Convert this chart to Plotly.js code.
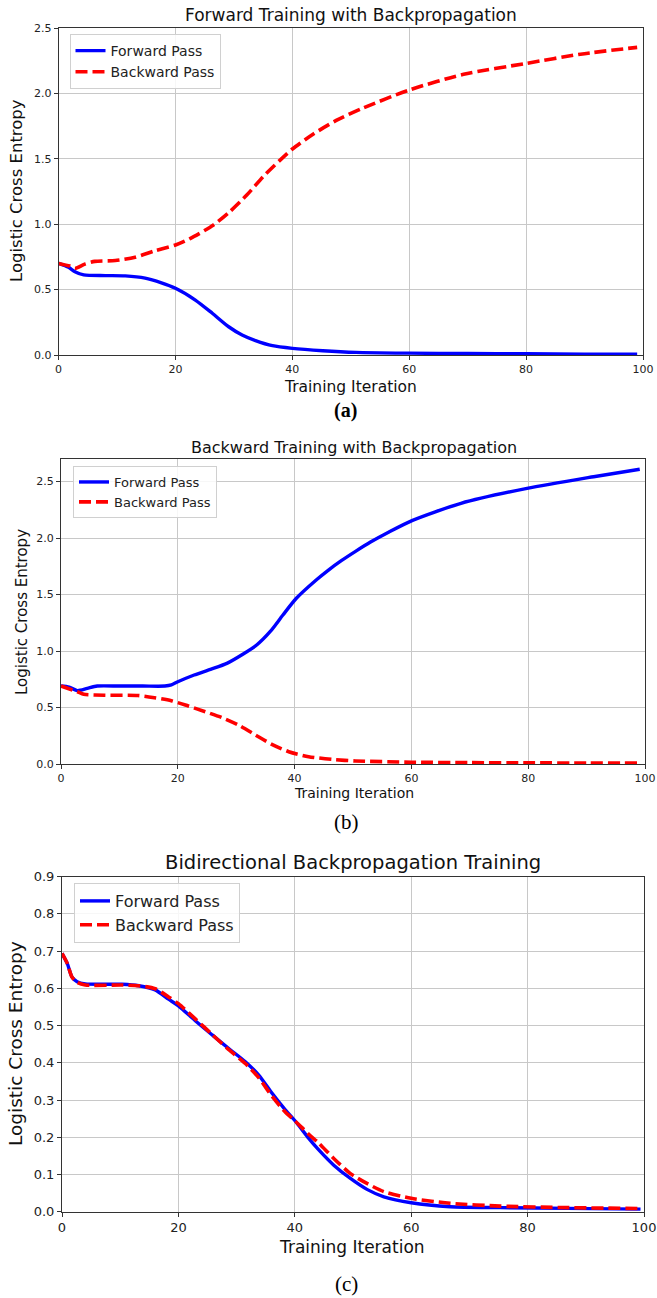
<!DOCTYPE html>
<html>
<head>
<meta charset="utf-8">
<script src="https://cdn.plot.ly/plotly-3.0.1.min.js"></script>
<style>html,body{margin:0;padding:0;background:#fff}#chart{width:657px;height:1298px}</style>
</head>
<body>
<div id="chart"></div>
<script>
// ---- Data ----
const seriesNames = ["Forward Pass", "Backward Pass"];
const panelTitles = ["Forward Training with Backpropagation", "Backward Training with Backpropagation", "Bidirectional Backpropagation Training"];
const panelLabels = ["(a)", "(b)", "(c)"];
const xTitle = "Training Iteration";
const yTitle = "Logistic Cross Entropy";
const xTickVals = [0, 20, 40, 60, 80, 100];

// (a) Forward training with backpropagation
const iterAf = [0, 1.7, 2.8, 4.3, 8, 11.4, 14.8, 17.6, 20, 23.4, 26.3, 29.1, 31.4, 33.7, 36.6, 40, 45.2, 50.9, 60, 70, 80, 90, 99];
const fwdA   = [0.70, 0.67, 0.637, 0.612, 0.607, 0.605, 0.588, 0.552, 0.51, 0.42, 0.319, 0.216, 0.153, 0.11, 0.071, 0.051, 0.033, 0.02, 0.014, 0.011, 0.009, 0.007, 0.006];
const iterAb = [0, 1.9, 2.8, 4.5, 6.2, 9.7, 13.1, 16.5, 20, 22.5, 26.5, 29.3, 32.2, 35, 37.9, 40, 43.6, 47.6, 52.1, 60, 69.3, 80.1, 89.3, 99];
const bwdA   = [0.70, 0.68, 0.663, 0.695, 0.716, 0.722, 0.747, 0.797, 0.841, 0.89, 0.994, 1.096, 1.223, 1.363, 1.49, 1.575, 1.69, 1.795, 1.888, 2.026, 2.146, 2.23, 2.30, 2.352];

// (b) Backward training with backpropagation
const iterBf = [0, 1.4, 2.8, 4.5, 6.2, 10, 14, 17.8, 18.9, 20, 22.8, 25.6, 28.4, 31.2, 33.5, 35.8, 38, 40.3, 43.7, 45.8, 48, 50.5, 53, 56, 60.1, 68.5, 79.8, 91.2, 99.1];
const fwdB   = [0.69, 0.68, 0.65, 0.67, 0.69, 0.69, 0.69, 0.69, 0.70, 0.728, 0.788, 0.838, 0.891, 0.974, 1.053, 1.171, 1.319, 1.467, 1.629, 1.717, 1.80, 1.885, 1.965, 2.05, 2.155, 2.308, 2.44, 2.543, 2.609];
const iterBb = [0, 2.8, 3.9, 7.4, 13.2, 16, 18.9, 21.8, 24.7, 27.6, 30.4, 33.3, 36.1, 39, 42.4, 46.4, 50.4, 60, 70, 80, 90, 99];
const bwdB   = [0.69, 0.64, 0.617, 0.609, 0.606, 0.587, 0.56, 0.513, 0.463, 0.41, 0.345, 0.257, 0.174, 0.109, 0.065, 0.041, 0.027, 0.016, 0.012, 0.01, 0.009, 0.008];

// (c) Bidirectional backpropagation training
const iterC = [0, 0.9, 1.7, 2.6, 4, 10.3, 13.2, 16, 18.3, 20, 22.9, 25.8, 28.6, 31.5, 33.8, 36.1, 38.4, 40.1, 42.4, 44, 46.7, 49.5, 52.4, 55.3, 60, 66.7, 75.3, 86.8, 99.4];
const fwdC  = [0.694, 0.667, 0.631, 0.618, 0.612, 0.611, 0.607, 0.596, 0.571, 0.553, 0.513, 0.475, 0.439, 0.403, 0.367, 0.318, 0.273, 0.243, 0.197, 0.168, 0.125, 0.09, 0.060, 0.040, 0.024, 0.0134, 0.011, 0.009, 0.007];
const bwdC  = [0.694, 0.667, 0.631, 0.616, 0.609, 0.609, 0.607, 0.599, 0.577, 0.559, 0.518, 0.476, 0.436, 0.398, 0.36, 0.31, 0.267, 0.243, 0.208, 0.186, 0.143, 0.103, 0.076, 0.054, 0.036, 0.0226, 0.015, 0.011, 0.0085];

// ---- Styling ----
const BLUE = "#0000ff", RED = "#ff0000";
const FONT = "DejaVu Sans, sans-serif";
const SERIF = "Liberation Serif, Times New Roman, serif";
const W = 657, H = 1298;
const px = v => v / W;
const py = v => 1 - v / H;

function tr(x, y, i, k, legend) {
  return {
    x: x, y: y, type: "scatter", mode: "lines",
    name: seriesNames[i],
    xaxis: "x" + (k === 1 ? "" : k), yaxis: "y" + (k === 1 ? "" : k),
    legend: legend,
    line: i === 0 ? {color: BLUE, width: 3.4, shape: "spline", smoothing: 0.7}
                  : {color: RED, width: 3.6, dash: "12px,5px", shape: "spline", smoothing: 0.7}
  };
}

const data = [
  tr(iterAf, fwdA, 0, 1, "legend"), tr(iterAb, bwdA, 1, 1, "legend"),
  tr(iterBf, fwdB, 0, 2, "legend2"), tr(iterBb, bwdB, 1, 2, "legend2"),
  tr(iterC, fwdC, 0, 3, "legend3"), tr(iterC, bwdC, 1, 3, "legend3")
];

function xax(dom, anchor, fs) {
  return {domain: dom, anchor: anchor, range: [0, 100], tickvals: xTickVals,
    showgrid: true, gridcolor: "#c8c8c8", gridwidth: 1, zeroline: false,
    showline: true, linecolor: "#333", linewidth: 1, mirror: true,
    ticks: "outside", ticklen: 4, tickcolor: "#333", ticklabeloverflow: "allow",
    tickfont: {family: FONT, size: fs, color: "#222"}};
}
function yax(dom, anchor, range, dtick, fs) {
  return {domain: dom, anchor: anchor, range: range, dtick: dtick, tick0: 0, tickformat: ".1f",
    showgrid: true, gridcolor: "#c8c8c8", gridwidth: 1, zeroline: false,
    showline: true, linecolor: "#333", linewidth: 1, mirror: true,
    ticks: "outside", ticklen: 4, tickcolor: "#333",
    tickfont: {family: FONT, size: fs, color: "#222"}};
}
function leg(x, y, fs) {
  return {x: x, y: y, xanchor: "left", yanchor: "top", bgcolor: "rgba(255,255,255,0.85)",
    bordercolor: "#d0d0d0", borderwidth: 1, font: {family: FONT, size: fs, color: "#222"},
    tracegroupgap: 2};
}
function ann(text, x, y, fs, opts) {
  return Object.assign({text: text, x: px(x), y: py(y), xref: "paper", yref: "paper",
    xanchor: "center", yanchor: "middle", showarrow: false,
    font: {family: FONT, size: fs, color: "#111"}}, opts || {});
}

const layout = {
  width: W, height: H, margin: {l: 0, r: 0, t: 0, b: 0},
  paper_bgcolor: "#fff", plot_bgcolor: "#fff",
  xaxis: xax([px(58.6), px(643)], "y", 11),
  yaxis: yax([py(355), py(28)], "x", [0, 2.5], 0.5, 11),
  xaxis2: xax([px(61), px(645)], "y2", 11),
  yaxis2: yax([py(764), py(459)], "x2", [0, 2.7], 0.5, 11),
  xaxis3: xax([px(62), px(644)], "y3", 13),
  yaxis3: yax([py(1211.7), py(876.7)], "x3", [0, 0.9], 0.1, 13),
  legend: leg(px(69.5), py(34), 14),
  legend2: leg(px(73), py(466), 13),
  legend3: leg(px(74), py(883), 16),
  annotations: [
    ann(panelTitles[0], 350.5, 15, 17),
    ann(xTitle, 350.6, 387, 15.5),
    ann(yTitle, 16, 191, 16.5, {textangle: -90}),
    ann("<b>" + panelLabels[0] + "</b>", 345, 410, 20, {font: {family: SERIF, size: 20, color: "#000"}}),

    ann(panelTitles[1], 354, 447, 16),
    ann(xTitle, 354, 793, 14),
    ann(yTitle, 22, 612, 15, {textangle: -90}),
    ann(panelLabels[1], 346, 822, 21, {font: {family: SERIF, size: 21, color: "#000"}}),

    ann(panelTitles[2], 352.5, 862, 19.5),
    ann(xTitle, 352, 1247, 17),
    ann(yTitle, 15, 1044, 18.5, {textangle: -90}),
    ann(panelLabels[2], 346, 1284, 21, {font: {family: SERIF, size: 21, color: "#000"}})
  ]
};

Plotly.newPlot("chart", data, layout, {staticPlot: true, displayModeBar: false});
</script>
</body>
</html>
